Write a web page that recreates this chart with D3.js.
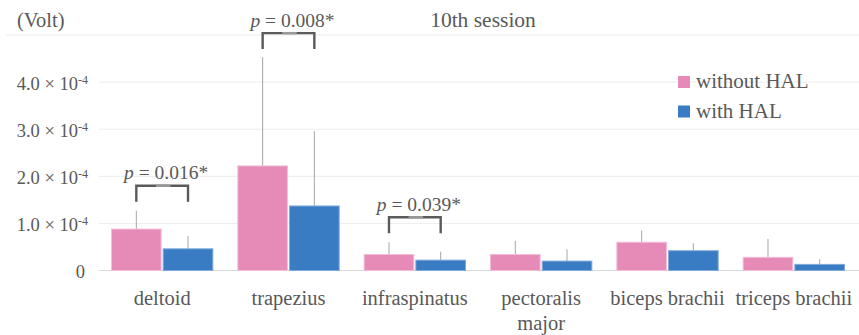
<!DOCTYPE html>
<html>
<head>
<meta charset="utf-8">
<script src="https://cdn.jsdelivr.net/npm/d3@7"></script>
<style>
  html, body { margin: 0; padding: 0; background: #fff; font-family: "Liberation Serif", serif; }
</style>
</head>
<body>
<script>
// Muscle groups and mean EMG amplitude (V), 10th session
const categories = ["deltoid", "trapezius", "infraspinatus", "pectoralis major", "biceps brachii", "triceps brachii"];
const seriesNames = ["without HAL", "with HAL"];
const withoutHAL = [0.88e-4, 2.22e-4, 0.34e-4, 0.34e-4, 0.60e-4, 0.28e-4];
const withHAL    = [0.46e-4, 1.37e-4, 0.22e-4, 0.20e-4, 0.42e-4, 0.13e-4];
// Upper end of the error bars (mean + SD)
const withoutHALUpper = [1.27e-4, 4.53e-4, 0.60e-4, 0.63e-4, 0.85e-4, 0.67e-4];
const withHALUpper    = [0.73e-4, 2.96e-4, 0.40e-4, 0.45e-4, 0.58e-4, 0.24e-4];
// Significance brackets
const sigCategories = ["deltoid", "trapezius", "infraspinatus"];
const sigLabels = ["0.016*", "0.008*", "0.039*"];
const sigLevels = [1.80e-4, 5.04e-4, 1.13e-4];
// Axis ticks
const tickValues = [0, 1e-4, 2e-4, 3e-4, 4e-4];
const tickMantissas = ["0", "1.0", "2.0", "3.0", "4.0"];
const gridValues = [1e-4, 2e-4, 3e-4, 4e-4, 5e-4];

const colors = ["#E68AB8", "#3A7CC3"];
const strokes = ["#F3BCD7", "#7FAADB"];
const FONT = "Liberation Serif, serif";
const TEXT = "#595959";

const svg = d3.select("body").append("svg")
  .attr("width", 859).attr("height", 335)
  .style("display", "block");
const left = 99, right = 857, baseY = 270.5, topY = 35;

const x = d3.scaleBand().domain(categories).range([left, right]).padding(0);
const xs = d3.scaleBand().domain(seriesNames).range([12.5, x.bandwidth() - 12.5]).paddingInner(0.04);
const y = d3.scaleLinear().domain([0, 5e-4]).range([baseY, topY]);

// Gridlines
svg.append("g").selectAll("line").data(gridValues).join("line")
  .attr("x1", d => d === 5e-4 ? 6 : left)
  .attr("x2", 859)
  .attr("y1", d => y(d)).attr("y2", d => y(d))
  .attr("stroke", "#ececec").attr("stroke-width", 1);
// Baseline
svg.append("line").attr("x1", left).attr("x2", 859)
  .attr("y1", y(0)).attr("y2", y(0))
  .attr("stroke", "#d9d9d9").attr("stroke-width", 1);

// Y axis labels
const yAxis = d3.axisLeft(y).tickValues(tickValues).tickSize(0).tickPadding(0).tickFormat("");
const yAxisG = svg.append("g").attr("transform", "translate(88,0)").call(yAxis);
yAxisG.attr("font-family", null);
yAxisG.select(".domain").remove();
yAxisG.selectAll(".tick text").remove();
yAxisG.selectAll(".tick").each(function(d, i) {
  const t = d3.select(this).append("text")
    .attr("text-anchor", "end")
    .attr("y", 7)
    .attr("font-size", 18.5);
  if (d === 0) {
    t.attr("x", -3).text(tickMantissas[i]);
  } else {
    t.append("tspan").text(tickMantissas[i] + " \u00d7 10");
    t.append("tspan").attr("font-size", 12).attr("dy", -6).text("-4");
  }
});

// Bars
const rows = categories.map((c, i) => ({
  cat: c,
  vals: [
    { s: seriesNames[0], v: withoutHAL[i], u: withoutHALUpper[i], k: 0 },
    { s: seriesNames[1], v: withHAL[i], u: withHALUpper[i], k: 1 }
  ]
}));

const groups = svg.append("g").selectAll("g").data(rows).join("g")
  .attr("transform", d => `translate(${x(d.cat)},0)`);

// Error bars (drawn behind bars)
groups.selectAll("line.err").data(d => d.vals).join("line")
  .attr("class", "err")
  .attr("x1", d => xs(d.s) + xs.bandwidth() / 2)
  .attr("x2", d => xs(d.s) + xs.bandwidth() / 2)
  .attr("y1", d => y(d.v)).attr("y2", d => y(d.u))
  .attr("stroke", "#a6a6a6").attr("stroke-width", 1);

groups.selectAll("rect").data(d => d.vals).join("rect")
  .attr("x", d => xs(d.s))
  .attr("width", xs.bandwidth())
  .attr("y", d => y(d.v))
  .attr("height", d => y(0) - y(d.v))
  .attr("fill", d => colors[d.k])
  .attr("stroke", d => strokes[d.k]).attr("stroke-width", 1);

// Category labels
const xAxis = d3.axisBottom(x).tickSize(0).tickFormat("");
const xAxisG = svg.append("g").call(xAxis);
xAxisG.attr("font-family", null);
xAxisG.select(".domain").remove();
xAxisG.selectAll(".tick").each(function(d) {
  const words = d === "pectoralis major" ? ["pectoralis", "major"] : [d];
  const t = d3.select(this).append("text").attr("text-anchor", "middle").attr("font-size", 20.5);
  words.forEach((w, j) => {
    t.append("tspan").attr("x", 0).attr("y", 305 + j * 24.5).text(w);
  });
});

// Significance brackets
sigCategories.forEach((c, i) => {
  const x1 = x(c) + xs(seriesNames[0]) + xs.bandwidth() / 2;
  const x2 = x(c) + xs(seriesNames[1]) + xs.bandwidth() / 2;
  const yt = y(sigLevels[i]);
  const g = svg.append("g");
  g.append("path")
    .attr("d", `M${x1},${yt + 16}V${yt}H${x2}V${yt + 16}`)
    .attr("fill", "none").attr("stroke", "#5a5a5a").attr("stroke-width", 2.4);
  g.append("line")
    .attr("x1", x1 + (x2 - x1) * 0.38).attr("x2", x1 + (x2 - x1) * 0.66)
    .attr("y1", yt).attr("y2", yt)
    .attr("stroke", "#9a9a9a").attr("stroke-width", 2.4);
  const t = g.append("text").attr("x", (x1 + x2) / 2 + 4).attr("y", yt - 6.5)
    .attr("text-anchor", "middle").attr("font-size", 19.5);
  t.append("tspan").attr("font-style", "italic").text("p");
  t.append("tspan").text(" = " + sigLabels[i]);
});

// Titles
svg.append("text").attr("x", 17).attr("y", 27).attr("font-size", 20.5).text("(Volt)");
svg.append("text").attr("x", 483).attr("y", 27).attr("text-anchor", "middle").attr("font-size", 21.5).text("10th session");

// Legend
const legend = svg.append("g").attr("transform", "translate(678,76)");
seriesNames.forEach((s, i) => {
  legend.append("rect").attr("x", 0).attr("y", i * 29.5).attr("width", 12).attr("height", 12)
    .attr("fill", colors[i]);
  legend.append("text").attr("x", 18).attr("y", i * 29.5 + 12).attr("font-size", 21).text(s);
});

// Shared text styling
svg.selectAll("text, tspan")
  .style("font-family", FONT, "important")
  .attr("fill", TEXT);
</script>
</body>
</html>
